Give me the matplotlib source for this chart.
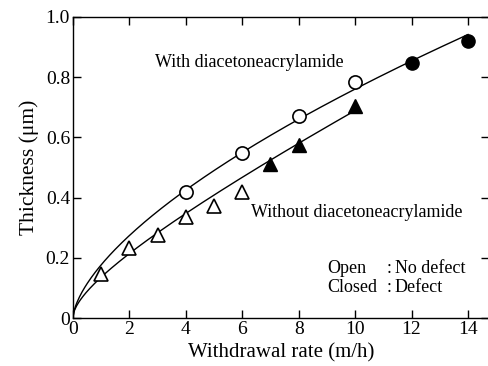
import numpy as np
import matplotlib
matplotlib.use("Agg")
import matplotlib.pyplot as plt

plt.rcParams['font.family'] = ['Liberation Serif', 'DejaVu Serif']

# Data
with_open_x = [4, 6, 8, 10]
with_open_y = [0.42, 0.548, 0.67, 0.784]
with_closed_x = [12, 14]
with_closed_y = [0.847, 0.92]
without_open_x = [1, 2, 3, 4, 5, 6]
without_open_y = [0.146, 0.232, 0.276, 0.335, 0.372, 0.42]
without_closed_x = [7, 8, 10]
without_closed_y = [0.512, 0.575, 0.704]
xticks = [0, 2, 4, 6, 8, 10, 12, 14]
yticks = [0, 0.2, 0.4, 0.6, 0.8, 1.0]
yticklabels = ['0', '0.2', '0.4', '0.6', '0.8', '1.0']


def powerfit(x, y):
    b, loga = np.polyfit(np.log(x), np.log(y), 1)
    return np.exp(loga), b


def sqrtlinfit(x, y):
    A = np.column_stack([np.sqrt(x), x])
    coef, *_ = np.linalg.lstsq(A, y, rcond=None)
    return coef


fig = plt.figure(figsize=(4.89, 3.66), dpi=100)
ax = fig.add_axes([0.149, 0.131, 0.852, 0.823])

# fitted curve: with diacetoneacrylamide
wx = np.array(with_open_x + with_closed_x, float)
wy = np.array(with_open_y + with_closed_y, float)
a1, b1 = powerfit(wx, wy)
xs = np.linspace(0, wx.max(), 300)
ax.plot(xs, a1 * xs ** b1, color='black', lw=1.0, zorder=1)

# fitted curve: without (points the curve passes through)
nx = np.array(without_open_x[:4] + without_closed_x, float)
ny = np.array(without_open_y[:4] + without_closed_y, float)
p, q = sqrtlinfit(nx, ny)
xs2 = np.linspace(0, nx.max(), 300)
ax.plot(xs2, p * np.sqrt(xs2) + q * xs2, color='black', lw=1.0, zorder=1)

ms = 9.5
ax.plot(with_open_x, with_open_y, 'o', ms=ms, mfc='white', mec='black', mew=1.2, ls='none', zorder=3)
ax.plot(with_closed_x, with_closed_y, 'o', ms=ms, mfc='black', mec='black', ls='none', zorder=3)
ax.plot(without_open_x, without_open_y, '^', ms=ms, mfc='white', mec='black', mew=1.2, ls='none', zorder=3)
ax.plot(without_closed_x, without_closed_y, '^', ms=ms, mfc='black', mec='black', ls='none', zorder=3)

ax.set_xlim(0, 14.76)
ax.set_ylim(0, 1.0)
ax.set_xticks(xticks)
ax.set_yticks(yticks)
ax.set_yticklabels(yticklabels)
ax.tick_params(direction='in', length=6, width=1, top=True, right=True, labelsize=14, pad=2)
for s in ax.spines.values():
    s.set_linewidth(1.0)
ax.set_xlabel('Withdrawal rate (m/h)', fontsize=15, labelpad=4)
ax.set_ylabel('Thickness (\u03bcm)', fontsize=15.5, labelpad=5)

ax.text(2.9, 0.85, 'With diacetoneacrylamide', fontsize=13, va='center')
ax.text(6.3, 0.35, 'Without diacetoneacrylamide', fontsize=13, va='center')
ax.text(9.0, 0.166, 'Open', fontsize=13, va='center')
ax.text(11.1, 0.166, ':', fontsize=13, va='center')
ax.text(11.4, 0.166, 'No defect', fontsize=13, va='center')
ax.text(9.0, 0.10, 'Closed', fontsize=13, va='center')
ax.text(11.1, 0.10, ':', fontsize=13, va='center')
ax.text(11.4, 0.10, 'Defect', fontsize=13, va='center')

fig.savefig('out.png', dpi=100)
